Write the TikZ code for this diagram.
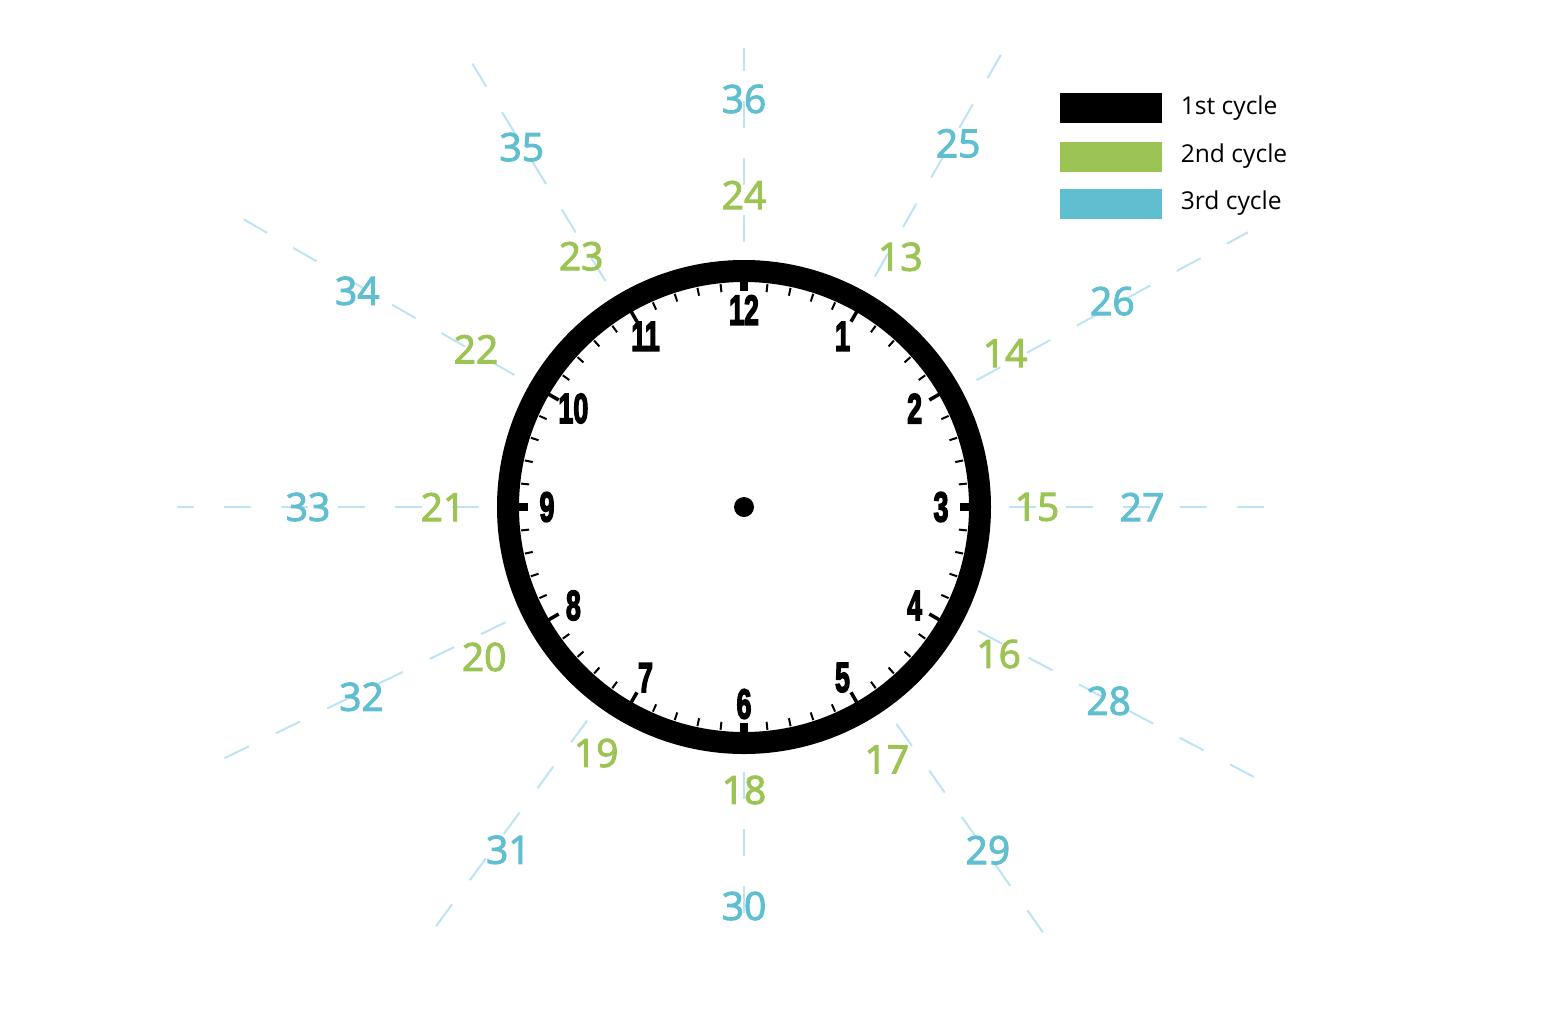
\documentclass[tikz,border=0pt]{standalone}
\usepackage{fontspec}
\usepackage{graphicx}
\setmainfont{Open Sans}
\newfontfamily\cycfont[FakeBold=2.5]{Open Sans}
\newfontfamily\dialfont[BoldFeatures={FakeBold=4}]{Liberation Sans}
\usetikzlibrary{positioning}
\definecolor{cyclegreen}{HTML}{9CC455}
\definecolor{cycleblue}{HTML}{5FBFD1}
\definecolor{guideblue}{HTML}{BEE3F4}
\newcommand{\narrow}[1]{\scalebox{0.64}[1]{#1}}

\begin{document}
\begin{tikzpicture}[x=0.5pt,y=0.5pt,
  guide/.style={guideblue,line width=1pt,dash pattern=on 13.5pt off 15pt},
  cyc/.style={font=\cycfont\fontsize{19.5}{20}\selectfont,inner sep=0pt},
  dialnum/.style={font=\dialfont\bfseries\fontsize{21}{21}\selectfont,inner sep=0pt},
  legbox/.style={minimum width=51pt,minimum height=15pt,inner sep=0pt},
  legtext/.style={font=\fontsize{12.3}{12}\selectfont,inner sep=0pt,anchor=west}]
\useasboundingbox (-744,-517) rectangle (812,507);
\foreach \a/\r in {90/459,60.4/530,28.6/574,0/524,-27.9/584,-54.9/533,-90/433,-126.3/540,-154.2/597,180/567,150.1/590,121.5/543}
  \draw[guide] (\a:265) -- (\a:\r);
\foreach \n/\a/\r in {13/58/295,14/30.5/303,15/0/293,16/-30/294,17/-60.5/290,18/-90/283,19/-121/287,20/-150/300,21/180/301,22/149.5/311,23/123/299,24/90/312}
  \node[cyc,cyclegreen] (c\n) at (\a:\r) {\n};
\foreach \n/\a/\r in {25/59.5/422,26/29.2/422,27/0/398,28/-28/413,29/-54.6/421,30/-90/399,31/-124.5/416,32/-153.6/427,33/180/436,34/150.8/443,35/121.7/423,36/90/408}
  \node[cyc,cycleblue] (c\n) at (\a:\r) {\n};
\draw[line width=11pt] (0,0) circle (236);
\foreach \m in {0,...,59}
  \draw[line width=1pt] ({6*\m}:224) -- ({6*\m}:216);
\foreach \h in {1,2,4,5,7,8,10,11}
  \draw[line width=1.75pt] ({90-30*\h}:227) -- ({90-30*\h}:214);
\foreach \q in {0,90,180,270}
  \draw[line width=4pt] (\q:228) -- (\q:216);
\foreach \h in {1,...,12}
  \node[dialnum] (h\h) at ({90-30*\h}:197) {\narrow{\h}};
\fill (0,0) circle (10);
\node[legbox,fill=black] (k1) at (367,399) {};
\node[legbox,fill=cyclegreen] (k2) at (367,350.5) {};
\node[legbox,fill=cycleblue] (k3) at (367,303.5) {};
\node[legtext,right=9pt of k1] (t1) {1st cycle};
\node[legtext,right=9pt of k2] (t2) {2nd cycle};
\node[legtext,right=9pt of k3] (t3) {3rd cycle};
\end{tikzpicture}
\end{document}
